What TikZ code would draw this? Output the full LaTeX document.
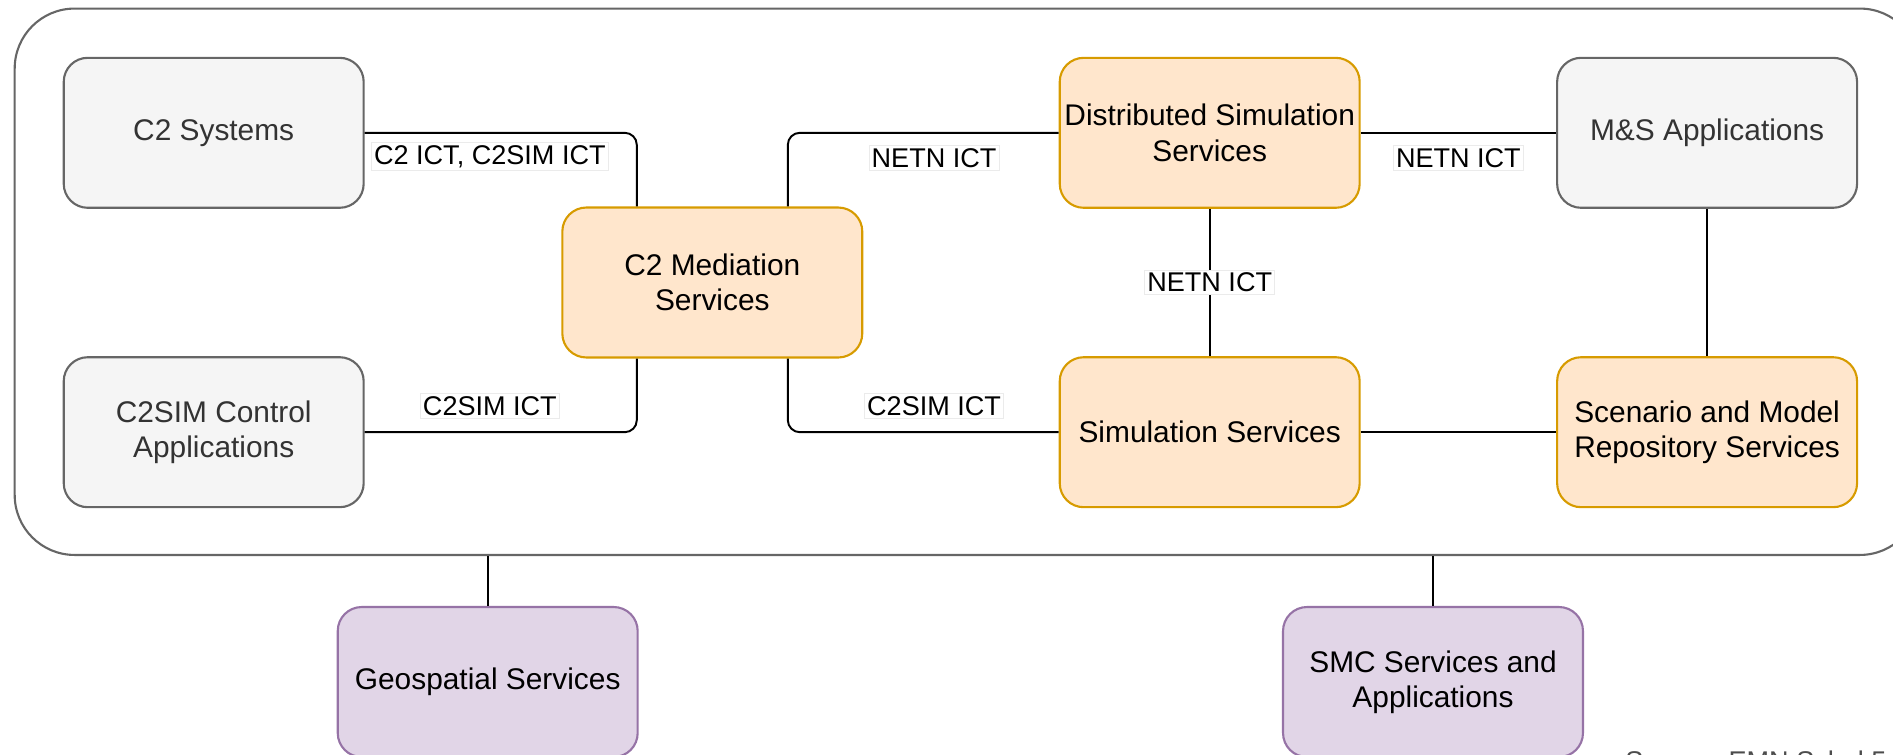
\documentclass[tikz,border=0pt]{standalone}
\usepackage{fontspec}
\setmainfont{Liberation Sans}
\usetikzlibrary{calc}

\definecolor{sysfill}{HTML}{F5F5F5}
\definecolor{sysline}{HTML}{666666}
\definecolor{systext}{HTML}{333333}
\definecolor{svcfill}{HTML}{FFE6CC}
\definecolor{svcline}{HTML}{D79B00}
\definecolor{extfill}{HTML}{E1D5E7}
\definecolor{extline}{HTML}{9673A6}

\tikzset{
	box/.style={rectangle, rounded corners=0.48cm, minimum width=6cm, minimum height=3cm,
		inner sep=0pt, align=center, line width=1.2pt, font=\fontsize{17}{20}\selectfont},
	sysbox/.style={box, draw=sysline, fill=sysfill, text=systext},
	svcbox/.style={box, draw=svcline, fill=svcfill},
	extbox/.style={box, draw=extline, fill=extfill},
	link/.style={line width=1.1pt, rounded corners=0.24cm},
	ict/.style={sharp corners, fill=white, draw=black!8, line width=0.4pt, inner sep=1.5pt,
		font=\fontsize{15.4}{18}\selectfont},
}

\begin{document}
\begin{tikzpicture}[x=0.02cm, y=-0.02cm]
	\useasboundingbox (0,0) rectangle (1893,754);
	\clip (0,0) rectangle (1893,754);
	% enclosing frame, runs off the right edge
	\node[draw=sysline, line width=1.2pt, rounded corners=1.2cm, minimum width=38.11cm,
		minimum height=10.93cm, inner sep=0pt] (frame) at (967.25,281.75) {};

	% inner boxes
	\node[sysbox] (c2sys) at (213.7,132.8) {C2 Systems};
	\node[sysbox] (c2ctl) at (213.7,432.2) {C2SIM Control\\Applications};
	\node[svcbox] (med) at (712.3,282.5) {C2 Mediation\\Services};
	\node[svcbox] (dist) at (1209.7,132.8) {Distributed Simulation\\Services};
	\node[svcbox] (sim) at (1209.7,432.2) {Simulation Services};
	\node[sysbox] (msapp) at (1707.1,132.8) {M\&S Applications};
	\node[svcbox] (repo) at (1707.1,432.2) {Scenario and Model\\Repository Services};
	% outside the frame
	\node[extbox] (geo) at (487.7,682) {Geospatial Services};
	\node[extbox] (smc) at (1433,682) {SMC Services and\\Applications};

	% connectors
	\draw[link] (c2sys.east) -| node[ict, pos=.23, yshift=-0.47cm] {C2 ICT, C2SIM ICT}
		($(med.north west)!.25!(med.north east)$);
	\draw[link] (c2ctl.east) -| node[ict, pos=.23, yshift=0.53cm] {C2SIM ICT}
		($(med.south west)!.25!(med.south east)$);
	\draw[link] ($(med.north west)!.75!(med.north east)$) |- node[ict, pos=.77, yshift=-0.5cm] {NETN ICT} (dist.west);
	\draw[link] ($(med.south west)!.75!(med.south east)$) |- node[ict, pos=.77, yshift=0.53cm] {C2SIM ICT} (sim.west);
	\draw[link] (dist.east) -- node[ict, yshift=-0.5cm] {NETN ICT} (msapp.west);
	\draw[link] (dist.south) -- node[ict] {NETN ICT} (sim.north);
	\draw[link] (msapp.south) -- (repo.north);
	\draw[link] (sim.east) -- (repo.west);
	\draw[link] (geo.north |- frame.south) -- (geo.north);
	\draw[link] (smc.north |- frame.south) -- (smc.north);

	% source line, cut by the page edge
	\node[anchor=north west, inner sep=0pt, text=black!70, font=\fontsize{15.4}{18}\selectfont]
		(source) at (1625,751) {Source: EMN Schol 5.C};
\end{tikzpicture}
\end{document}
